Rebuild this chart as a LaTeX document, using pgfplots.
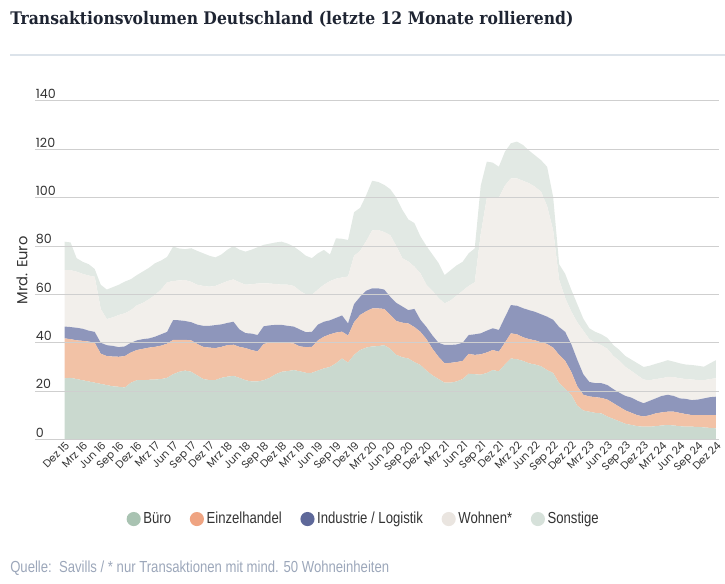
\documentclass[border=0pt]{standalone}
\usepackage{fontspec}
\setmainfont{Poppins}
\newfontfamily\titlefont{DejaVu Serif Condensed}
\newfontfamily\narrowfont[FakeStretch=0.82]{Liberation Sans}
\usepackage{pgfplots}
\usepackage{pgfplotstable}
\pgfplotsset{compat=1.18}

\definecolor{cBuero}{HTML}{CAD9CF}
\definecolor{cEinzel}{HTML}{F2C2A6}
\definecolor{cIndu}{HTML}{8E96BB}
\definecolor{cWohnen}{HTML}{F2EFEB}
\definecolor{cSonst}{HTML}{E2E9E4}
\definecolor{lBuero}{HTML}{A9C3B2}
\definecolor{lEinzel}{HTML}{EFA482}
\definecolor{lIndu}{HTML}{5E6899}
\definecolor{lWohnen}{HTML}{EAE5E0}
\definecolor{lSonst}{HTML}{D6E1DA}
\definecolor{gridc}{HTML}{CFCFCF}
\definecolor{txt}{HTML}{333333}
\definecolor{titlec}{HTML}{1E2432}
\definecolor{rulec}{HTML}{DCE3EA}
\definecolor{srcc}{HTML}{9CA7BA}

% monthly values, Dez 15 = 0 ... Dez 24 = 108 (Mrd. Euro)
\pgfplotstableread{
m buero einzel industrie wohnen sonstige
0 25.3 16.5 4.9 23.4 11.7
1 25.5 16.0 5.0 23.5 11.5
2 25.0 16.0 5.2 23.2 5.6
3 24.5 16.3 5.0 22.7 5.0
4 24.0 16.5 4.5 22.8 4.7
5 23.5 16.5 4.5 22.8 3.2
6 23.0 12.5 4.5 14.0 10.0
7 22.5 12.0 4.5 10.8 12.2
8 22.0 12.3 4.4 11.8 12.5
9 21.8 12.4 4.0 13.3 12.5
10 21.5 13.0 4.0 13.7 13.1
11 23.5 12.5 4.0 13.5 12.8
12 24.5 12.5 4.0 14.5 12.5
13 24.5 13.0 4.0 15.0 13.0
14 24.7 13.3 3.8 16.2 13.0
15 24.8 13.5 4.2 17.3 13.1
16 25.0 13.8 4.7 18.5 12.0
17 25.5 14.1 4.9 20.5 10.5
18 27.0 14.2 8.2 16.1 14.3
19 28.0 13.2 8.1 16.5 13.2
20 28.5 12.7 7.8 16.9 12.8
21 28.0 13.0 7.5 16.7 13.9
22 26.5 13.0 8.0 16.5 14.0
23 25.0 13.3 8.7 16.5 13.5
24 24.6 13.4 9.0 16.2 12.8
25 24.6 13.2 9.5 16.2 11.8
26 25.5 12.8 9.3 16.9 12.0
27 26.0 13.0 9.2 17.3 13.0
28 26.3 12.9 9.5 17.5 13.8
29 25.5 12.8 7.2 19.5 13.5
30 24.5 13.3 6.2 20.0 13.7
31 24.0 13.0 6.8 20.4 14.3
32 24.0 12.4 6.8 21.3 15.0
33 24.5 15.0 7.3 17.8 15.9
34 25.5 14.5 7.2 17.3 16.5
35 27.0 13.0 7.4 16.9 17.2
36 28.0 11.9 7.5 16.6 17.8
37 28.3 11.6 7.1 17.0 17.0
38 28.7 11.0 7.0 16.8 16.3
39 28.2 10.3 7.0 16.0 16.5
40 27.6 10.6 6.2 15.6 16.0
41 27.6 10.7 6.2 15.3 15.2
42 28.5 12.5 6.5 14.5 15.0
43 29.4 13.1 6.2 15.3 14.4
44 30.0 13.5 5.8 16.2 11.0
45 31.5 12.7 6.1 16.2 16.7
46 33.5 11.1 6.7 15.7 16.0
47 31.8 11.2 5.0 19.4 15.1
48 35.0 13.5 7.5 20.0 18.0
49 37.0 14.5 7.5 19.0 17.8
50 38.0 15.0 8.5 20.5 19.0
51 38.5 15.7 8.3 24.0 20.5
52 38.6 15.6 8.3 24.1 19.9
53 39.0 15.0 8.0 23.8 19.5
54 37.5 14.0 7.5 25.5 19.0
55 35.0 14.0 7.5 23.5 20.0
56 34.0 14.3 6.7 20.0 20.0
57 33.5 14.5 5.5 20.1 17.4
58 32.0 14.5 7.5 17.5 18.0
59 30.8 13.7 5.0 19.2 15.3
60 28.5 13.0 5.0 17.5 16.0
61 26.5 11.0 5.5 18.5 15.0
62 25.0 9.2 5.8 18.5 14.5
63 23.5 8.0 7.6 17.2 11.7
64 23.5 8.2 7.4 18.4 12.5
65 24.0 8.0 7.3 20.2 12.5
66 25.0 7.5 7.5 21.5 12.0
67 27.2 8.2 7.8 20.3 13.5
68 27.0 8.0 8.5 21.5 14.0
69 26.8 8.4 8.7 41.1 20.0
70 27.5 8.5 9.0 54.8 15.1
71 28.7 8.3 9.0 53.8 14.7
72 28.2 8.1 9.0 54.7 12.8
73 31.0 9.0 10.5 54.5 14.0
74 33.5 10.4 11.7 52.4 14.5
75 33.2 10.3 11.8 52.7 15.2
76 32.5 9.8 12.0 52.7 14.8
77 31.5 10.0 12.0 52.5 13.5
78 31.0 10.0 11.8 51.7 13.0
79 30.3 9.9 11.6 50.7 13.0
80 28.7 10.8 11.3 45.7 16.3
81 27.5 10.5 11.5 37.1 13.8
82 23.3 11.7 11.5 19.5 6.5
83 21.0 11.5 12.0 14.0 10.0
84 18.5 9.5 11.5 13.5 9.0
85 14.0 8.0 11.0 15.5 7.5
86 12.0 6.5 8.5 18.0 5.0
87 11.5 6.3 6.0 17.7 4.5
88 11.0 6.5 5.8 16.7 4.5
89 10.8 6.4 6.1 15.7 4.5
90 9.5 7.0 6.0 15.0 4.5
91 8.5 6.5 5.8 13.7 4.5
92 7.5 6.0 5.8 13.2 4.5
93 6.5 5.5 6.0 12.0 4.5
94 6.0 5.0 6.3 11.0 4.7
95 5.5 4.5 6.0 10.5 5.0
96 5.3 4.2 5.5 9.8 5.2
97 5.3 4.7 6.0 8.5 6.0
98 5.5 5.3 6.2 8.0 6.3
99 5.8 5.4 6.8 7.3 6.7
100 6.0 5.5 7.0 7.4 6.9
101 5.8 5.7 6.5 7.8 6.4
102 5.5 5.5 6.0 8.3 6.2
103 5.3 5.2 6.3 8.2 6.0
104 5.3 4.8 6.2 8.5 6.0
105 5.2 4.9 6.4 8.1 5.9
106 5.0 5.1 6.9 7.5 5.6
107 4.8 5.3 7.4 7.5 6.5
108 4.6 5.5 7.6 7.6 7.5
}\data

\begin{document}
\begin{tikzpicture}[x=0.75pt,y=0.75pt]
\useasboundingbox (0,0) rectangle (725,584);
\node[anchor=base west, inner sep=0pt, text=titlec, font=\titlefont\bfseries\fontsize{13}{16}\selectfont] at (10,559) {Transaktionsvolumen Deutschland (letzte 12 Monate rollierend)};
\draw[rulec, line width=1.5pt] (10,529) -- (725,529);
\node[anchor=base west, inner sep=0pt, text=srcc, font=\narrowfont\fontsize{12}{14}\selectfont] at (10,11) {Quelle:\ \ Savills / * nur Transaktionen mit mind. 50 Wohneinheiten};

\begin{axis}[
    at={(26.25pt,108.375pt)}, anchor=south west,
    scale only axis, width=513pt, height=253.9pt,
    stack plots=y, area style, axis on top,
    xmin=-4.9, xmax=108.5, ymin=0, ymax=140,
    axis line style={draw=none},
    major tick length=0pt,
    ytick={0,20,...,140},
    ymajorgrids, grid style={gridc, line width=0.8pt},
    xtick={0,3,...,108},
    xticklabels={Dez 15, Mrz 16, Jun 16, Sep 16, Dez 16, Mrz 17, Jun 17, Sep 17, Dez 17, Mrz 18, Jun 18, Sep 18, Dez 18, Mrz 19, Jun 19, Sep 19, Dez 19, Mrz 20, Jun 20, Sep 20, Dez 20, Mrz 21, Jun 21, Sep 21, Dez 21, Mrz 22, Jun 22, Sep 22, Dez 22, Mrz 23, Jun 23, Sep 23, Dez 23, Mrz 24, Jun 24, Sep 24, Dez 24},
    xticklabel style={rotate=45, anchor=north east, inner sep=0.5pt, font=\fontsize{8}{9}\selectfont, text=txt},
    yticklabel style={anchor=south west, inner sep=1.5pt, xshift=-1pt, font=\fontsize{9.5}{11}\selectfont, text=txt},
    /pgf/number format/assume math mode=true,
    ylabel={Mrd. Euro},
    ylabel style={at={(axis description cs:-0.019,0.5)}, anchor=center, font=\fontsize{11}{13}\selectfont, text=txt},
    legend columns=5,
    legend style={at={(0.481,-0.235)}, anchor=center, draw=none, fill=none,
        font=\narrowfont\fontsize{12}{14}\selectfont, text=txt,
        /tikz/every even column/.append style={column sep=12pt}},
    legend cell align=left,
]
\addplot[fill=cBuero, draw=none, legend image code/.code={\fill[lBuero] (-3pt,0pt) circle (5.3pt);}] table[x=m, y=buero] {\data} \closedcycle;
\addplot[fill=cEinzel, draw=none, legend image code/.code={\fill[lEinzel] (-3pt,0pt) circle (5.3pt);}] table[x=m, y=einzel] {\data} \closedcycle;
\addplot[fill=cIndu, draw=none, legend image code/.code={\fill[lIndu] (-3pt,0pt) circle (5.3pt);}] table[x=m, y=industrie] {\data} \closedcycle;
\addplot[fill=cWohnen, draw=none, legend image code/.code={\fill[lWohnen] (-3pt,0pt) circle (5.3pt);}] table[x=m, y=wohnen] {\data} \closedcycle;
\addplot[fill=cSonst, draw=none, legend image code/.code={\fill[lSonst] (-3pt,0pt) circle (5.3pt);}] table[x=m, y=sonstige] {\data} \closedcycle;
\legend{Büro, Einzelhandel, Industrie / Logistik, Wohnen*, Sonstige}
\end{axis}
\end{tikzpicture}
\end{document}
